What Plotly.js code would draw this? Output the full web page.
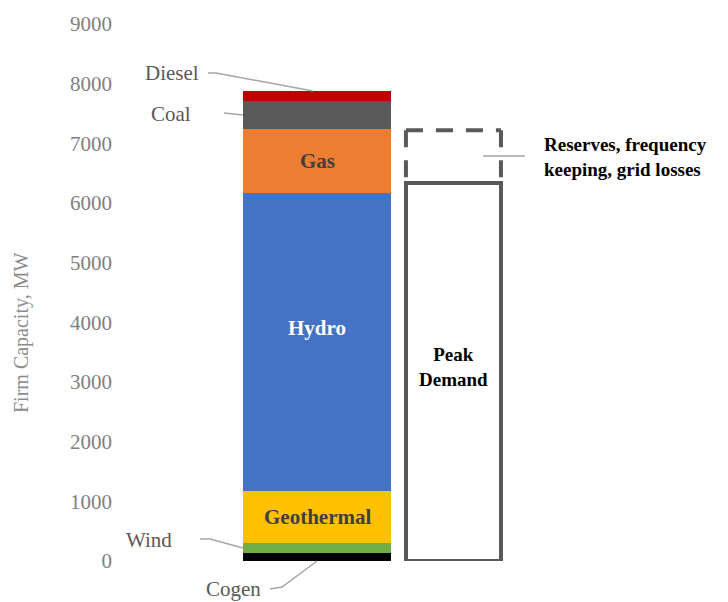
<!DOCTYPE html>
<html>
<head>
<meta charset="utf-8">
<script src="https://cdn.plot.ly/plotly-3.0.1.min.js"></script>
<style>html,body{margin:0;padding:0;background:#fff}#chart{width:728px;height:602px}</style>
</head>
<body>
<div id="chart"></div>
<script>
// ---- data ----
const sources = ['Cogen', 'Wind', 'Geothermal', 'Hydro', 'Gas', 'Coal', 'Diesel'];
const capacityMW = [140, 155, 875, 4990, 1080, 470, 160];
const peakDemandMW = [6330];
const reservesMW = [890];
const yTickVals = [0, 1000, 2000, 3000, 4000, 5000, 6000, 7000, 8000, 9000];
const yTickText = ['0', '1000', '2000', '3000', '4000', '5000', '6000', '7000', '8000', '9000'];

// ---- styles / geometry ----
const segColors = ['#000000', '#70AD47', '#FFC000', '#4472C4', '#ED7D31', '#595959', '#C00000'];
const FONT = 'Liberation Serif, Times New Roman, serif';
const L = 125, R = 123, T = 24, B = 41, WIDTH = 728, HEIGHT = 602;
const W = WIDTH - L - R, H = HEIGHT - T - B;
const xRange = [-1.30, 1.943];
const yRange = [0, 9000];
const supplyX = 0, demandX = 0.919, supplyW = 1.0, demandW = 0.642;
const px2x = p => xRange[0] + (p - L) / W * (xRange[1] - xRange[0]);
const px2y = p => yRange[0] + (T + H - p) / H * (yRange[1] - yRange[0]);
// paper coordinates (not clipped, can extend below the plot area)
const px2px = p => (p - L) / W;
const px2py = p => (T + H - p) / H;

const traces = sources.map((s, i) => ({
  type: 'bar', name: s, x: [supplyX], y: [capacityMW[i]], width: [supplyW],
  marker: {color: segColors[i], line: {width: 0}}, hoverinfo: 'name+y'
}));
traces.push({
  type: 'bar', name: 'Peak Demand', x: [demandX], y: peakDemandMW, width: [demandW],
  marker: {color: 'rgba(255,255,255,0)', line: {color: '#595959', width: 4}}, hoverinfo: 'name+y'
});

// cumulative positions
const cum = []; let acc = 0;
capacityMW.forEach(v => { cum.push(acc); acc += v; });
const mid = i => cum[i] + capacityMW[i] / 2;

const dLeft = demandX - demandW / 2, dRight = demandX + demandW / 2;
const resTop = peakDemandMW[0] + reservesMW[0];
const dashStyle = {color: '#595959', width: 4, dash: '17px,13px'};
const leader = {color: '#a6a6a6', width: 1.5};
const path = pts => 'M ' + pts.map(p => px2px(p[0]) + ',' + px2py(p[1])).join(' L ');

const shapes = [
  {type: 'line', xref: 'x', yref: 'y', x0: dLeft, x1: dRight, y0: resTop, y1: resTop, line: dashStyle},
  {type: 'line', xref: 'x', yref: 'y', x0: dLeft, x1: dLeft, y0: resTop, y1: peakDemandMW[0], line: dashStyle},
  {type: 'line', xref: 'x', yref: 'y', x0: dRight, x1: dRight, y0: resTop, y1: peakDemandMW[0], line: dashStyle},
  {type: 'path', xref: 'paper', yref: 'paper', path: path([[208, 73], [216, 73], [313, 91]]), line: leader},
  {type: 'path', xref: 'paper', yref: 'paper', path: path([[224, 113], [243, 115]]), line: leader},
  {type: 'path', xref: 'paper', yref: 'paper', path: path([[200, 539], [210, 539], [243, 548]]), line: leader},
  {type: 'path', xref: 'paper', yref: 'paper', path: path([[270, 589], [282, 587], [317, 561]]), line: leader},
  {type: 'path', xref: 'paper', yref: 'paper', path: path([[483, 156], [525, 156]]), line: leader}
];

const ann = (text, px, py, opts) => Object.assign({
  text: text, xref: 'paper', yref: 'paper', x: px2px(px), y: px2py(py), showarrow: false,
  xanchor: 'center', yanchor: 'middle', font: {family: FONT, size: 20, color: '#595959'}
}, opts || {});

const annotations = [
  ann('<b>' + sources[4] + '</b>', 317, 160, {xref: 'x', yref: 'y', x: supplyX, y: mid(4), font: {family: FONT, size: 21, color: '#404040'}}),
  ann('<b>' + sources[3] + '</b>', 317, 328, {xref: 'x', yref: 'y', x: supplyX, y: px2y(328), font: {family: FONT, size: 21, color: '#ffffff'}}),
  ann('<b>' + sources[2] + '</b>', 317, 518, {xref: 'x', yref: 'y', x: supplyX, y: mid(2), font: {family: FONT, size: 21, color: '#404040'}}),
  ann('<b>Peak<br>Demand</b>', 453, 367, {xref: 'x', yref: 'y', x: demandX, y: px2y(367), font: {family: FONT, size: 19, color: '#000000'}}),
  ann('<b>Reserves, frequency<br>keeping, grid losses</b>', 542, 157, {xanchor: 'left', align: 'left', font: {family: FONT, size: 19, color: '#000000'}}),
  ann(sources[6], 172, 73, {font: {family: FONT, size: 21, color: '#595959'}}),
  ann(sources[5], 171, 114, {font: {family: FONT, size: 21, color: '#595959'}}),
  ann(sources[1], 149, 540, {font: {family: FONT, size: 21, color: '#595959'}}),
  ann(sources[0], 233, 589, {font: {family: FONT, size: 21, color: '#595959'}}),
  ann('Firm Capacity, MW', 21, 333, {textangle: -90, font: {family: FONT, size: 20, color: '#8c8c8c'}})
];

const layout = {
  width: WIDTH, height: HEIGHT,
  margin: {l: L, r: R, t: T, b: B, pad: 0},
  paper_bgcolor: '#ffffff', plot_bgcolor: '#ffffff',
  barmode: 'stack', showlegend: false,
  xaxis: {range: xRange, visible: false, fixedrange: true},
  yaxis: {
    range: yRange, tickvals: yTickVals, ticktext: yTickText, showgrid: false, zeroline: false,
    showline: false, ticks: '', ticklabelstandoff: 12,
    tickfont: {family: FONT, size: 21, color: '#808080'}
  },
  shapes: shapes,
  annotations: annotations
};

Plotly.newPlot('chart', traces, layout, {displayModeBar: false, staticPlot: true});
</script>
</body>
</html>
